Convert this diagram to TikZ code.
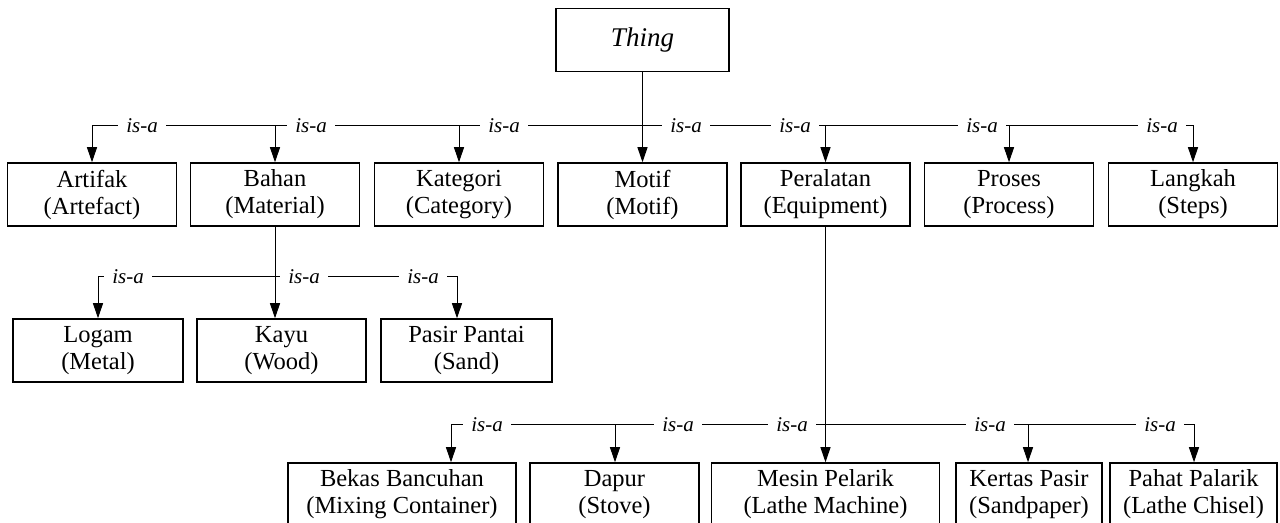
\documentclass[tikz,border=0pt]{standalone}
\usepackage{fontspec}
\setmainfont{Liberation Serif}
\usetikzlibrary{arrows.meta}

\tikzset{
  concept/.style={draw, line width=0.75pt, minimum height=31.5pt, inner sep=1pt,
    align=center, font=\fontsize{12.25}{13.5}\selectfont},
  isa/.style={fill=white, inner xsep=4pt, inner ysep=1pt,
    font=\fontsize{10.5}{12}\selectfont\itshape},
  link/.style={line width=0.5pt, -{Triangle[length=7.5pt,width=5pt]}},
}

\begin{document}
\begin{tikzpicture}[x=0.5pt, y=-0.5pt]
  \useasboundingbox (0,0) rectangle (1280,523);

  % root
  \node[concept, minimum width=86.5pt, font=\fontsize{13.5}{14}\selectfont\itshape] (thing) at (642.5,40) {Thing};

  % first level
  \node[concept, minimum width=84.5pt] (artifak)   at (92,194.5)    {Artifak\\(Artefact)};
  \node[concept, minimum width=84.5pt] (bahan)     at (275,194.5)   {Bahan\\(Material)};
  \node[concept, minimum width=84.5pt] (kategori)  at (459,194.5)   {Kategori\\(Category)};
  \node[concept, minimum width=84.5pt] (motif)     at (642.5,194.5) {Motif\\(Motif)};
  \node[concept, minimum width=84.5pt] (peralatan) at (825.5,194.5) {Peralatan\\(Equipment)};
  \node[concept, minimum width=84.5pt] (proses)    at (1009,194.5)  {Proses\\(Process)};
  \node[concept, minimum width=84.5pt] (langkah)   at (1193,194.5)  {Langkah\\(Steps)};

  % under Bahan
  \node[concept, minimum width=85pt]   (logam) at (98,350.5)    {Logam\\(Metal)};
  \node[concept, minimum width=84.5pt] (kayu)  at (281.5,350.5) {Kayu\\(Wood)};
  \node[concept, minimum width=85.5pt] (pasir) at (466.5,350.5) {Pasir Pantai\\(Sand)};

  % under Peralatan
  \node[concept, minimum width=114pt]  (bekas)  at (402,494.5)    {Bekas Bancuhan\\(Mixing Container)};
  \node[concept, minimum width=84.5pt] (dapur)  at (614.5,494.5)  {Dapur\\(Stove)};
  \node[concept, minimum width=114pt]  (mesin)  at (825.5,494.5)  {Mesin Pelarik\\(Lathe Machine)};
  \node[concept, minimum width=73pt]   (kertas) at (1029,494.5)   {Kertas Pasir\\(Sandpaper)};
  \node[concept, minimum width=83.5pt] (pahat)  at (1193.5,494.5) {Pahat Palarik\\(Lathe Chisel)};

  % bus corners
  \coordinate (tArtifak)  at (92,126);
  \coordinate (tBahan)    at (275,126);
  \coordinate (tKategori) at (459,126);
  \coordinate (tPeralatan) at (825.5,126);
  \coordinate (tProses)   at (1009,126);
  \coordinate (tLangkah)  at (1193,126);
  \coordinate (bLogam)    at (98,277);
  \coordinate (bPasir)    at (457,277);
  \coordinate (pBekas)    at (451,425);
  \coordinate (pDapur)    at (615,425);
  \coordinate (pKertas)   at (1028,425);
  \coordinate (pPahat)    at (1194,425);

  \draw[link] (thing.south) |- (tArtifak) -- (tArtifak |- artifak.north);
  \draw[link] (thing.south) |- (tBahan) -- (tBahan |- bahan.north);
  \draw[link] (thing.south) |- (tKategori) -- (tKategori |- kategori.north);
  \draw[link] (thing.south) -- (motif.north);
  \draw[link] (thing.south) |- (tPeralatan) -- (tPeralatan |- peralatan.north);
  \draw[link] (thing.south) |- (tProses) -- (tProses |- proses.north);
  \draw[link] (thing.south) |- (tLangkah) -- (tLangkah |- langkah.north);

  \draw[link] (bahan.south) |- (bLogam) -- (bLogam |- logam.north);
  \draw[link] (bahan.south) -- (bahan.south |- kayu.north);
  \draw[link] (bahan.south) |- (bPasir) -- (bPasir |- pasir.north);

  \draw[link] (peralatan.south) |- (pBekas) -- (pBekas |- bekas.north);
  \draw[link] (peralatan.south) |- (pDapur) -- (pDapur |- dapur.north);
  \draw[link] (peralatan.south) -- (mesin.north);
  \draw[link] (peralatan.south) |- (pKertas) -- (pKertas |- kertas.north);
  \draw[link] (peralatan.south) |- (pPahat) -- (pPahat |- pahat.north);

  % relation labels
  \node[isa] (isaArtifak)   at (142,126)  {is-a};
  \node[isa] (isaBahan)     at (311,126)  {is-a};
  \node[isa] (isaKategori)  at (504,126)  {is-a};
  \node[isa] (isaMotif)     at (686,126)  {is-a};
  \node[isa] (isaPeralatan) at (795,126)  {is-a};
  \node[isa] (isaProses)    at (982,126)  {is-a};
  \node[isa] (isaLangkah)   at (1162,126) {is-a};
  \node[isa] (isaLogam)     at (128,277)  {is-a};
  \node[isa] (isaKayu)      at (304,277)  {is-a};
  \node[isa] (isaPasir)     at (423,277)  {is-a};
  \node[isa] (isaBekas)     at (487,425)  {is-a};
  \node[isa] (isaDapur)     at (678,425)  {is-a};
  \node[isa] (isaMesin)     at (792,425)  {is-a};
  \node[isa] (isaKertas)    at (990,425)  {is-a};
  \node[isa] (isaPahat)     at (1160,425) {is-a};
\end{tikzpicture}
\end{document}
